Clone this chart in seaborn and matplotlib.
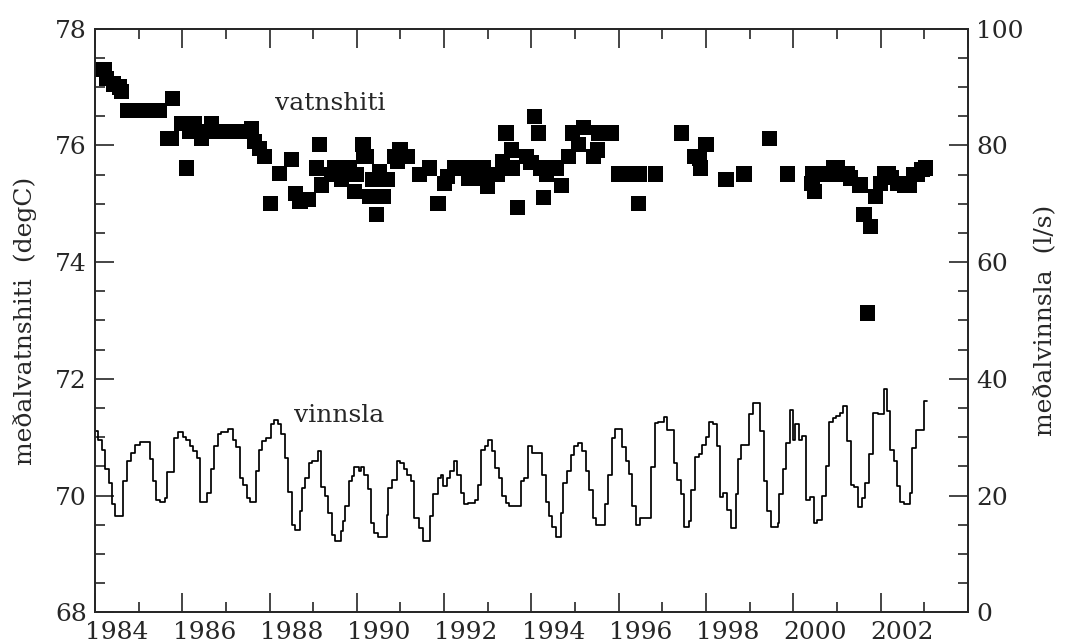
import matplotlib
matplotlib.use("Agg")
import matplotlib.pyplot as plt
from matplotlib.ticker import MultipleLocator, FixedLocator
from matplotlib.transforms import ScaledTranslation
import seaborn as sns
import pandas as pd

# medal vatnshiti (degC), one row of the list per stretch of the record
temp_year = [
    1983.57, 1983.64, 1983.72, 1983.76, 1983.92, 1984.07, 1984.10,
    1984.24, 1984.32, 1984.40, 1984.48, 1984.57, 1984.65, 1984.73, 1984.81, 1984.90, 1984.98,
    1985.16, 1985.25, 1985.28, 1985.48, 1985.59,
    1985.67, 1985.75, 1985.83, 1985.92, 1986.00, 1986.08, 1986.25, 1986.33, 1986.42,
    1986.50, 1986.58, 1986.67, 1986.75, 1986.83, 1986.92, 1987.00,
    1985.78, 1985.94, 1986.17,
    1987.08, 1987.16, 1987.27, 1987.38, 1987.52, 1987.73, 1988.00, 1988.10, 1988.20, 1988.40,
    1988.57, 1988.65, 1988.69, 1988.92, 1988.99, 1989.15, 1989.34, 1989.45, 1989.49,
    1989.64, 1989.66, 1989.72, 1989.79, 1989.87, 1989.95, 1990.02, 1990.10, 1990.21,
    1990.37, 1990.44, 1990.47, 1990.49, 1990.57, 1990.67, 1990.94, 1991.17, 1991.36, 1991.51, 1991.58,
    1991.75, 1991.83, 1991.92, 1992.00, 1992.08, 1992.17, 1992.25, 1992.33, 1992.40,
    1992.05, 1992.15, 1992.23, 1992.35, 1992.45,
    1992.50, 1992.73, 1992.84, 1992.92, 1993.04, 1993.07, 1993.19, 1993.38, 1993.49,
    1993.57, 1993.66, 1993.72, 1993.78, 1993.84, 1994.07, 1994.19, 1994.35, 1994.45,
    1994.58, 1994.69, 1994.92, 1995.02,
    1995.05, 1995.15, 1995.25, 1995.33,
    1995.50, 1995.60, 1995.70, 1995.80, 1995.90, 1995.98,
    1995.95, 1996.35, 1996.94, 1997.23, 1997.35, 1997.37, 1997.50, 1997.96, 1998.37,
    1998.96, 1999.37,
    1999.93, 1999.99, 1999.95, 2000.05, 2000.15, 2000.25, 2000.35, 2000.45, 2000.55, 2000.65, 2000.75,
    2000.43, 2000.50, 2000.81, 2001.03, 2001.12, 2001.20, 2001.27, 2001.39, 2001.50,
    2001.60, 2001.68, 2001.75, 2001.90, 2002.04, 2002.10, 2002.17, 2002.26, 2002.35, 2002.45, 2002.53,
]
temp_val = [
    77.30, 77.30, 77.30, 77.15, 77.05, 77.00, 76.92,
    76.60, 76.60, 76.60, 76.60, 76.60, 76.60, 76.60, 76.60, 76.60, 76.60,
    76.12, 76.12, 76.80, 76.38, 75.61,
    76.24, 76.24, 76.24, 76.24, 76.24, 76.24, 76.24, 76.24, 76.24,
    76.24, 76.24, 76.24, 76.24, 76.24, 76.24, 76.24,
    76.38, 76.12, 76.38,
    76.29, 76.06, 75.95, 75.81, 75.01, 75.52, 75.76, 75.18, 75.04, 75.07,
    75.61, 76.01, 75.32, 75.50, 75.61, 75.41, 75.61, 75.21, 75.50,
    76.01, 75.81, 75.81, 75.12, 75.41, 74.81, 75.55, 75.12, 75.41,
    75.81, 75.72, 75.81, 75.92, 75.81, 75.81, 75.50, 75.61, 75.01, 75.35, 75.47,
    75.61, 75.61, 75.61, 75.61, 75.61, 75.61, 75.61, 75.61, 75.61,
    75.44, 75.44, 75.44, 75.44, 75.44,
    75.30, 75.50, 75.72, 76.21, 75.92, 75.61, 74.93, 75.81, 75.70,
    76.50, 76.21, 75.61, 75.11, 75.50, 75.61, 75.31, 75.81, 76.21,
    76.01, 76.31, 75.81, 75.92,
    76.21, 76.21, 76.21, 76.21,
    75.51, 75.51, 75.51, 75.51, 75.51, 75.51,
    75.01, 75.51, 76.21, 75.81, 75.78, 75.61, 76.01, 75.41, 75.51,
    76.11, 75.51,
    75.35, 75.21, 75.51, 75.51, 75.51, 75.51, 75.51, 75.51, 75.51, 75.51, 75.51,
    75.61, 75.61, 75.44, 75.32, 74.81, 73.13, 74.61, 75.12, 75.35,
    75.52, 75.52, 75.45, 75.35, 75.32, 75.32, 75.32, 75.50, 75.50, 75.58, 75.61,
]

# medal vinnsla (l/s), monthly steps: time a step starts and its value
flow_year = [
    1983.50, 1983.58, 1983.66, 1983.74, 1983.82, 1983.90, 1983.97,
    1984.15, 1984.23, 1984.33, 1984.41, 1984.53, 1984.76, 1984.83, 1984.91, 1984.99,
    1985.10, 1985.16, 1985.32, 1985.40, 1985.52, 1985.59, 1985.67, 1985.75, 1985.83, 1985.91,
    1986.07, 1986.15, 1986.23, 1986.31, 1986.39, 1986.54, 1986.66, 1986.74, 1986.82, 1986.90, 1986.98,
    1987.06, 1987.18, 1987.25, 1987.33, 1987.41, 1987.53, 1987.61, 1987.69, 1987.77, 1987.85, 1987.93,
    1988.01, 1988.08, 1988.20, 1988.24, 1988.32, 1988.40, 1988.48, 1988.60, 1988.68, 1988.76, 1988.84, 1988.92,
    1989.00, 1989.13, 1989.19, 1989.23, 1989.31, 1989.39, 1989.43, 1989.55, 1989.59, 1989.67, 1989.75, 1989.82, 1989.90, 1989.98,
    1990.18, 1990.22, 1990.30, 1990.42, 1990.50, 1990.58, 1990.65, 1990.73, 1990.81, 1990.93,
    1991.01, 1991.17, 1991.25, 1991.37, 1991.44, 1991.48, 1991.56, 1991.64, 1991.72, 1991.80, 1991.88, 1991.96,
    1992.04, 1992.20, 1992.27, 1992.35, 1992.43, 1992.51, 1992.59, 1992.67, 1992.75, 1992.83, 1992.91, 1992.99,
    1993.26, 1993.34, 1993.42, 1993.52, 1993.75, 1993.83, 1993.91, 1993.98,
    1994.07, 1994.17, 1994.23, 1994.32, 1994.40, 1994.48, 1994.56, 1994.66, 1994.74, 1994.82, 1994.90, 1994.98,
    1995.18, 1995.26, 1995.34, 1995.42, 1995.58, 1995.66, 1995.73, 1995.81, 1995.89, 1995.99,
    1996.25, 1996.33, 1996.41, 1996.53, 1996.61, 1996.76, 1996.84, 1996.92,
    1997.00, 1997.10, 1997.16, 1997.24, 1997.34, 1997.41, 1997.49, 1997.57, 1997.65, 1997.76, 1997.82, 1997.90, 1997.99,
    1998.07, 1998.18, 1998.23, 1998.31, 1998.49, 1998.57, 1998.73, 1998.82, 1998.90, 1998.98,
    1999.14, 1999.18, 1999.26, 1999.34, 1999.42, 1999.50, 1999.55, 1999.62, 1999.70, 1999.80, 1999.89, 1999.97,
    2000.05, 2000.16, 2000.24, 2000.31, 2000.41, 2000.49, 2000.57, 2000.65, 2000.74, 2000.82, 2000.90, 2000.98,
    2001.08, 2001.14, 2001.24, 2001.32, 2001.44, 2001.57, 2001.64, 2001.72, 2001.80, 2001.88, 2001.95,
    2002.03, 2002.17, 2002.23, 2002.31, 2002.49, 2002.56,
]
flow_val = [
    31.0, 29.6, 27.9, 24.6, 22.2, 18.6, 16.5,
    22.5, 25.9, 27.3, 28.7, 29.2, 26.3, 22.5, 19.3, 19.0,
    19.6, 24.1, 29.9, 30.9, 30.0, 29.6, 28.5, 27.6, 26.5, 19.0,
    20.5, 24.5, 28.5, 30.5, 30.9, 31.5, 29.6, 28.3, 23.0, 21.9, 19.6,
    19.0, 24.2, 27.9, 29.3, 29.9, 32.2, 32.9, 32.2, 30.6, 26.5, 20.7,
    15.0, 14.2, 17.3, 21.3, 23.0, 25.6, 25.9, 27.6, 21.4, 19.9, 17.0, 13.3,
    12.2, 13.9, 15.6, 18.2, 22.5, 23.3, 24.9, 24.2, 24.9, 23.6, 21.2, 15.3, 13.6, 12.9,
    16.7, 21.3, 22.7, 25.9, 25.6, 24.6, 23.6, 22.5, 16.2, 14.5,
    12.3, 16.5, 20.2, 23.0, 23.6, 21.6, 23.0, 24.2, 26.0, 23.6, 20.5, 18.5,
    18.7, 19.3, 21.9, 27.9, 28.5, 29.6, 27.6, 24.7, 23.0, 19.9, 18.7, 18.3,
    22.5, 23.0, 28.5, 27.3, 23.6, 19.0, 16.5, 14.7,
    13.0, 17.0, 22.2, 24.3, 27.0, 28.5, 29.0, 27.6, 24.2, 21.0, 16.2, 15.0,
    18.5, 23.5, 29.8, 31.5, 28.3, 26.0, 23.7, 18.2, 15.0, 16.2,
    24.9, 32.5, 32.7, 33.4, 31.3, 25.6, 22.7, 20.2,
    14.7, 15.6, 21.0, 26.7, 27.1, 28.7, 30.0, 32.7, 32.2, 28.5, 19.7, 20.5, 17.6,
    14.5, 20.2, 26.2, 28.7, 33.9, 35.9, 31.0, 22.5, 17.3, 14.7,
    15.3, 20.2, 24.5, 29.0, 34.7, 29.6, 32.2, 29.6, 30.3, 19.3, 19.7, 15.3,
    15.9, 19.9, 25.0, 32.7, 33.3, 33.6, 34.2, 35.3, 29.3, 21.9, 21.4, 18.0,
    19.6, 22.2, 27.1, 34.2, 34.0, 38.2, 34.5, 27.9, 25.9, 21.6, 19.0,
    18.5, 20.5, 28.2, 31.3, 36.2, 36.2,
]

year_labels = ["1984", "1986", "1988", "1990", "1992", "1994", "1996", "1998", "2000", "2002", ""]

temp_df = pd.DataFrame({"ar": temp_year, "hiti": temp_val})
flow_df = pd.DataFrame({"ar": flow_year, "vinnsla": flow_val})

sns.set_style("ticks")
plt.rcParams["font.family"] = ["DejaVu Serif"]
plt.rcParams["xtick.direction"] = "in"
plt.rcParams["ytick.direction"] = "in"

fig = plt.figure(figsize=(10.73, 6.44), dpi=100)
ax = fig.add_axes([0.0885, 0.049, 0.8135, 0.9067])
ax2 = ax.twinx()

sns.scatterplot(data=temp_df, x="ar", y="hiti", ax=ax, marker="s", s=120,
                color="black", edgecolor="none", linewidth=0, zorder=3)
sns.lineplot(data=flow_df, x="ar", y="vinnsla", ax=ax2, drawstyle="steps-post",
             color="black", linewidth=1.25, estimator=None, sort=False)

ax.set_xlim(1983.5, 2003.5)
ax.set_ylim(68, 78)
ax2.set_ylim(0, 100)

ax.xaxis.set_major_locator(FixedLocator([1983.5 + 2 * i for i in range(11)]))
ax.xaxis.set_minor_locator(FixedLocator([1984.5 + 2 * i for i in range(10)]))
ax.set_xticklabels(year_labels)
ax.yaxis.set_major_locator(MultipleLocator(2))
ax.yaxis.set_minor_locator(MultipleLocator(0.5))
ax2.yaxis.set_major_locator(MultipleLocator(20))
ax2.yaxis.set_minor_locator(MultipleLocator(5))

for a in (ax, ax2):
    a.tick_params(which="major", length=14, width=1.2, labelsize=18, pad=6)
    a.tick_params(which="minor", length=7, width=1.2)
    for sp in a.spines.values():
        sp.set_linewidth(1.3)
        sp.set_visible(True)
ax.tick_params(axis="x", which="both", top=True, bottom=True)

ax.set_xlabel("")
ax.set_ylabel("meðalvatnshiti  (degC)", fontsize=18, labelpad=13)
ax2.set_ylabel("meðalvinnsla  (l/s)", fontsize=18, labelpad=7)

ax.text(1988.9, 76.71, "vatnshiti", fontsize=18, ha="center", va="center")
ax.text(1989.1, 71.38, "vinnsla", fontsize=18, ha="center", va="center")

# year labels sit half a year right of the long ticks
shift = ScaledTranslation(0.22, 0, fig.dpi_scale_trans)
for lab in ax.get_xticklabels():
    lab.set_transform(lab.get_transform() + shift)

fig.savefig("out.png", dpi=100)
